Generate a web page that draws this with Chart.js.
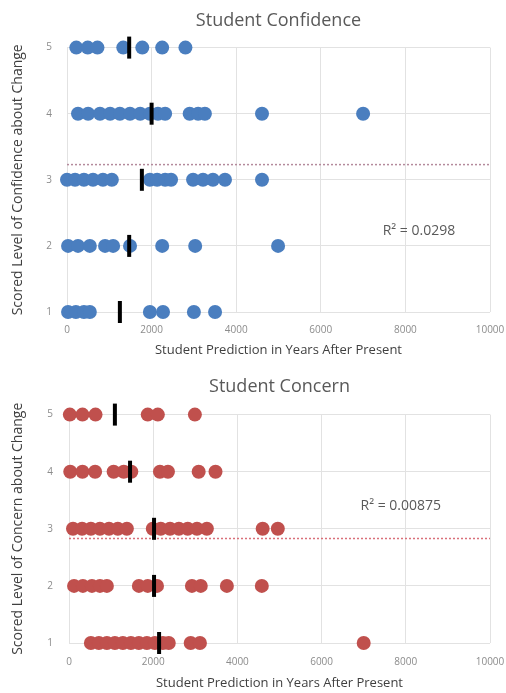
<!DOCTYPE html>
<html>
<head>
<meta charset="utf-8">
<script src="https://cdn.jsdelivr.net/npm/chart.js@4.4.1/dist/chart.umd.min.js"></script>
<style>
  html, body { margin: 0; padding: 0; background: #ffffff; }
  canvas { display: block; }
</style>
</head>
<body>
<canvas id="confidence" width="506" height="365"></canvas>
<canvas id="concern" width="506" height="328"></canvas>
<script>
// Scored levels (y) and the prediction axis ticks (x)
const levels = [1, 2, 3, 4, 5];
const xTickValues = [0, 2000, 4000, 6000, 8000, 10000];
const trendXs = [0, 10000];

// Student Confidence: predictions (years after present) per scored level
const confidence1 = [25, 210, 400, 540, 1960, 2270, 3000, 3500];
const confidence2 = [25, 260, 540, 900, 1090, 1490, 2250, 3030, 4990];
const confidence3 = [0, 190, 400, 615, 850, 1060, 1960, 2130, 2320, 2460, 2980, 3215, 3450, 3735, 4610];
const confidence4 = [260, 500, 780, 1020, 1250, 1490, 1730, 1960, 2150, 2320, 2900, 3100, 3260, 4610, 7000];
const confidence5 = [220, 490, 720, 1330, 1780, 2250, 2800];
const confidenceMarks = [1250, 1470, 1770, 2000, 1470];   // levels 1..5
const confidenceTrend = [3.23, 3.23];
const confidenceR2 = 'R\u00B2 = 0.0298';

// Student Concern: predictions (years after present) per scored level
const concern1 = [520, 710, 900, 1090, 1280, 1470, 1660, 1850, 2040, 2230, 2370, 2890, 3110, 7000];
const concern2 = [120, 330, 545, 735, 900, 1660, 1870, 2090, 2920, 3130, 3750, 4580];
const concern3 = [95, 310, 520, 735, 950, 1160, 1375, 1990, 2180, 2400, 2610, 2820, 3040, 3275, 4600, 4960];
const concern4 = [30, 320, 620, 1060, 1300, 1480, 2160, 2350, 3080, 3480];
const concern5 = [20, 320, 630, 1870, 2110, 2990];
const concernMarks = [2140, 2020, 2020, 1450, 1090];      // levels 1..5
const concernTrend = [2.83, 2.83];
const concernR2 = 'R\u00B2 = 0.00875';

const FONT = 'Open Sans';

// Writes the R² annotation inside the plot at a data position
const r2Label = {
  id: 'r2Label',
  afterDatasetsDraw(chart, args, opts) {
    const { ctx, scales } = chart;
    ctx.save();
    ctx.font = '14px "' + FONT + '"';
    ctx.fillStyle = '#595959';
    ctx.textAlign = 'center';
    ctx.textBaseline = 'middle';
    ctx.fillText(opts.text, scales.x.getPixelForValue(opts.at[0]), scales.y.getPixelForValue(opts.at[1]));
    ctx.restore();
  }
};

function buildChart(id, o) {
  const points = o.series.flatMap((xs, i) => xs.map(x => ({ x, y: levels[i] })));
  const marks = o.marks.map((x, i) => ({ x, y: levels[i] }));
  const trend = trendXs.map((x, i) => ({ x, y: o.trend[i] }));

  return new Chart(document.getElementById(id), {
    type: 'scatter',
    data: {
      datasets: [
        {
          data: points,
          backgroundColor: o.color,
          borderColor: o.color,
          borderWidth: 0,
          pointRadius: 7,
          pointHoverRadius: 7,
          clip: false,
          order: 3
        },
        {
          data: trend,
          showLine: true,
          borderColor: o.trendColor,
          borderWidth: 1.5,
          borderDash: [2, 2],
          pointRadius: 0,
          clip: false,
          order: 2
        },
        {
          data: marks,
          pointStyle: 'line',
          rotation: 90,
          pointRadius: 11,
          pointHoverRadius: 11,
          borderColor: '#000000',
          borderWidth: 4,
          clip: false,
          order: 1
        }
      ]
    },
    options: {
      responsive: false,
      animation: false,
      events: [],
      layout: { padding: { top: 0, right: 16, bottom: 0, left: 0 } },
      plugins: {
        legend: { display: false },
        tooltip: { enabled: false },
        title: {
          display: true,
          text: o.title,
          fullSize: false,
          color: '#595959',
          font: { family: FONT, size: 18, weight: 'normal' },
          padding: { top: o.titleTop, bottom: o.titleBottom }
        },
        r2Label: { text: o.r2, at: o.r2At }
      },
      scales: {
        x: {
          type: 'linear',
          min: 0,
          max: 10000,
          afterBuildTicks: s => { s.ticks = xTickValues.map(v => ({ value: v })); },
          ticks: {
            color: '#8c8c8c',
            font: { family: FONT, size: 10 },
            padding: 0,
            maxRotation: 0,
            autoSkip: false,
            callback: v => String(v)
          },
          // invisible tick marks keep the labels clear of the plot
          grid: { color: '#e2e2e2', drawTicks: true, tickLength: o.xTickGap, tickColor: 'rgba(0,0,0,0)', lineWidth: 1 },
          border: { display: false },
          title: {
            display: true,
            text: 'Student Prediction in Years After Present',
            color: '#404040',
            font: { family: FONT, size: 13 },
            padding: { top: 0, bottom: o.xTitlePad }
          },
          afterFit: s => { s.height = o.xHeight; }
        },
        y: {
          type: 'linear',
          min: 1,
          max: 5,
          afterBuildTicks: s => { s.ticks = levels.map(v => ({ value: v })); },
          ticks: {
            color: '#8c8c8c',
            font: { family: FONT, size: 10 },
            padding: 0
          },
          grid: { color: '#e2e2e2', drawTicks: true, tickLength: o.yTickGap, tickColor: 'rgba(0,0,0,0)', lineWidth: 1 },
          border: { display: false },
          title: {
            display: true,
            text: o.yTitle,
            color: '#404040',
            font: { family: FONT, size: 14 },
            padding: { top: 10, bottom: 0 }
          },
          afterFit: s => { s.width = o.yWidth; }
        }
      }
    },
    plugins: [r2Label]
  });
}

buildChart('confidence', {
  title: 'Student Confidence',
  yTitle: 'Scored Level of Confidence about Change',
  series: [confidence1, confidence2, confidence3, confidence4, confidence5],
  marks: confidenceMarks,
  trend: confidenceTrend,
  color: '#4a7ebf',
  trendColor: '#b48a9c',
  r2: confidenceR2,
  r2At: [8320, 2.23],
  titleTop: 10,
  titleBottom: 16,
  xHeight: 53,
  xTickGap: 12,
  xTitlePad: 7,
  yWidth: 67,
  yTickGap: 15
});

buildChart('concern', {
  title: 'Student Concern',
  yTitle: 'Scored Level of Concern about Change',
  series: [concern1, concern2, concern3, concern4, concern5],
  marks: concernMarks,
  trend: concernTrend,
  color: '#c0504d',
  trendColor: '#d9707a',
  r2: concernR2,
  r2At: [7880, 3.40],
  titleTop: 11,
  titleBottom: 17,
  xHeight: 50,
  xTickGap: 13,
  xTitlePad: 2,
  yWidth: 69,
  yTickGap: 16
});
</script>
</body>
</html>
